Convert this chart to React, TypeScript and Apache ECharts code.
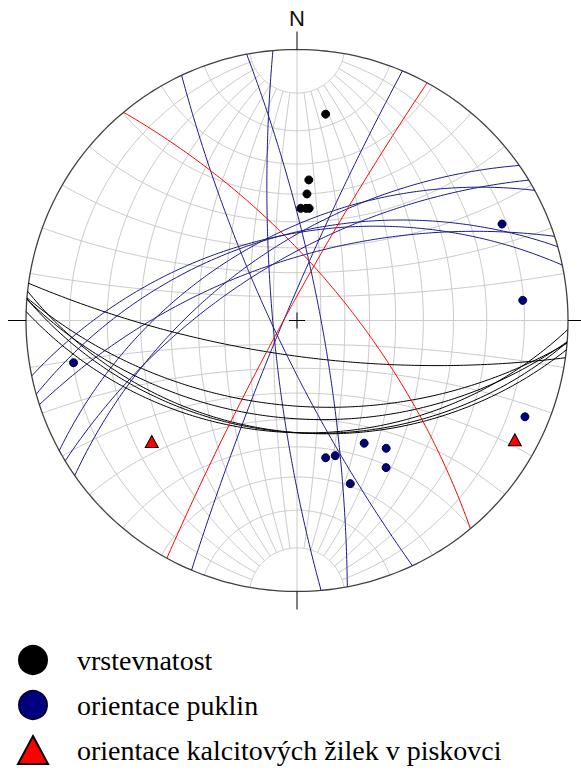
import React, { useEffect, useRef } from "react";
import * as echarts from "echarts";

// Poles (trend°, plunge°), lower hemisphere, Wulff (equal-angle) net
const beddingTrend = [7.9, 4.8, 4.5, 1.9, 4.6, 6.2];
const beddingPlunge = [14.9, 35.0, 39.8, 45.0, 44.9, 44.8];
const jointTrend = [259.3, 64.8, 84.9, 112.9, 168.2, 164.2, 151.3, 145.1, 148.8, 161.9];
const jointPlunge = [10.0, 10.2, 10.2, 5.2, 35.3, 35.2, 35.4, 30.2, 25.2, 25.3];
const veinTrend = [230.2, 118.7];
const veinPlunge = [20.2, 5.0];
const legendNames = ["vrstevnatost", "orientace puklin", "orientace kalcitových žilek v piskovci"];
const gridDips = [10, 20, 30, 40, 50, 60, 70, 80];
const gridCones = [10, 20, 30, 40, 50, 60, 70, 80, 90, 100, 110, 120, 130, 140, 150, 160, 170];

const rad = Math.PI / 180;
const proj = (e: number, n: number, z: number) => {
  const k = 1 / (1 - z);
  return [e * k, n * k];
};
const projLine = (t: number, p: number) =>
  proj(Math.cos(p * rad) * Math.sin(t * rad), Math.cos(p * rad) * Math.cos(t * rad), -Math.sin(p * rad));

function arc(s: number[], d: number[], from: number, to: number) {
  const pts: number[][] = [];
  for (let a = from; a <= to + 1e-9; a += 1) {
    const c = Math.cos(a * rad), sn = Math.sin(a * rad);
    pts.push(proj(c * s[0] + sn * d[0], c * s[1] + sn * d[1], c * s[2] + sn * d[2]));
  }
  return pts;
}
function planeFromPole(t: number, p: number) {
  const D = (t + 180) * rad, dip = (90 - p) * rad;
  const s = [Math.sin(D - Math.PI / 2), Math.cos(D - Math.PI / 2), 0];
  const d = [Math.cos(dip) * Math.sin(D), Math.cos(dip) * Math.cos(D), -Math.sin(dip)];
  return arc(s, d, 0, 180);
}

function netCurves() {
  const curves: number[][][] = [];
  for (const dip of gridDips) {
    for (const sgn of [1, -1]) {
      const d = [sgn * Math.cos(dip * rad), 0, -Math.sin(dip * rad)];
      curves.push(arc([0, 1, 0], d, 10, 170));
    }
  }
  curves.push(arc([0, 1, 0], [0, 0, -1], 0, 180));
  for (const a of gridCones) {
    const pts: number[][] = [];
    for (let psi = 0; psi <= 180; psi += 1) {
      pts.push(proj(Math.sin(a * rad) * Math.cos(psi * rad), Math.cos(a * rad), -Math.sin(a * rad) * Math.sin(psi * rad)));
    }
    curves.push(pts);
  }
  return curves;
}

const primitive = () => {
  const pts: number[][] = [];
  for (let a = 0; a <= 360; a += 1) pts.push([Math.cos(a * rad), Math.sin(a * rad)]);
  return pts;
};

const TICK = 18 / 271;
const CROSS = 8 / 271;

export default function App() {
  const ref = useRef<HTMLDivElement>(null);
  useEffect(() => {
    if (!ref.current) return;
    const chart = echarts.init(ref.current, undefined, { renderer: "svg" });
    const polyl = (arr: number[][][]) => arr.map((c) => ({ coords: c }));
    chart.setOption({
      animation: false,
      grid: { left: 26, top: 49.5, width: 542, height: 542 },
      xAxis: { type: "value", min: -1, max: 1, show: false },
      yAxis: { type: "value", min: -1, max: 1, show: false },
      graphic: [
        {
          type: "text",
          x: 297,
          y: 18,
          style: {
            text: "N",
            font: '22px "Liberation Sans", Arial, sans-serif',
            fill: "#111",
            align: "center",
            verticalAlign: "middle",
          },
        },
      ],
      legend: {
        data: legendNames,
        orient: "vertical",
        left: 17,
        top: 645,
        padding: 0,
        itemWidth: 30,
        itemHeight: 28,
        itemGap: 15,
        selectedMode: false,
        textStyle: {
          fontFamily: '"Liberation Serif", "Times New Roman", serif',
          fontSize: 28,
          lineHeight: 30,
          color: "#000",
          padding: [0, 0, 0, 24],
        },
      },
      series: [
        {
          type: "lines",
          name: "net",
          polyline: true,
          silent: true,
          coordinateSystem: "cartesian2d",
          lineStyle: { color: "#cacaca", width: 1, opacity: 1 },
          data: polyl(netCurves()),
        },
        {
          type: "lines",
          name: "primitive",
          polyline: true,
          silent: true,
          coordinateSystem: "cartesian2d",
          lineStyle: { color: "#404040", width: 1.3, opacity: 1 },
          data: polyl([primitive()]),
        },
        {
          type: "lines",
          name: "ticks",
          polyline: true,
          silent: true,
          clip: false,
          coordinateSystem: "cartesian2d",
          lineStyle: { color: "#000", width: 1, opacity: 1 },
          data: polyl([
            [[0, 1], [0, 1 + TICK]],
            [[0, -1], [0, -1 - TICK]],
            [[1, 0], [1 + TICK, 0]],
            [[-1, 0], [-1 - TICK, 0]],
            [[-CROSS, 0], [CROSS, 0]],
            [[0, -CROSS], [0, CROSS]],
          ]),
        },
        {
          type: "lines",
          name: "joint planes",
          polyline: true,
          silent: true,
          coordinateSystem: "cartesian2d",
          lineStyle: { color: "#1a1a8c", width: 1, opacity: 1 },
          data: polyl(jointTrend.map((t, i) => planeFromPole(t, jointPlunge[i]))),
        },
        {
          type: "lines",
          name: "bedding planes",
          polyline: true,
          silent: true,
          coordinateSystem: "cartesian2d",
          lineStyle: { color: "#000", width: 1, opacity: 1 },
          data: polyl(beddingTrend.map((t, i) => planeFromPole(t, beddingPlunge[i]))),
        },
        {
          type: "lines",
          name: "vein planes",
          polyline: true,
          silent: true,
          coordinateSystem: "cartesian2d",
          lineStyle: { color: "#ff0000", width: 1, opacity: 1 },
          data: polyl(veinTrend.map((t, i) => planeFromPole(t, veinPlunge[i]))),
        },
        {
          type: "scatter",
          name: legendNames[0],
          symbol: "circle",
          symbolSize: 8,
          itemStyle: { color: "#000", borderColor: "#000", borderWidth: 1, opacity: 1 },
          data: beddingTrend.map((t, i) => projLine(t, beddingPlunge[i])),
        },
        {
          type: "scatter",
          name: legendNames[1],
          symbol: "circle",
          symbolSize: 8,
          itemStyle: { color: "#000080", borderColor: "#000030", borderWidth: 1, opacity: 1 },
          data: jointTrend.map((t, i) => projLine(t, jointPlunge[i])),
        },
        {
          type: "scatter",
          name: legendNames[2],
          symbol: "triangle",
          symbolSize: [13, 12],
          itemStyle: { color: "#ff0000", borderColor: "#000", borderWidth: 1, opacity: 1 },
          data: veinTrend.map((t, i) => projLine(t, veinPlunge[i])),
        },
      ],
    });
    return () => chart.dispose();
  }, []);
  return (
    <div
      ref={ref}
      style={{ position: "fixed", left: 0, top: 0, width: 581, height: 774, background: "#fff" }}
    />
  );
}
